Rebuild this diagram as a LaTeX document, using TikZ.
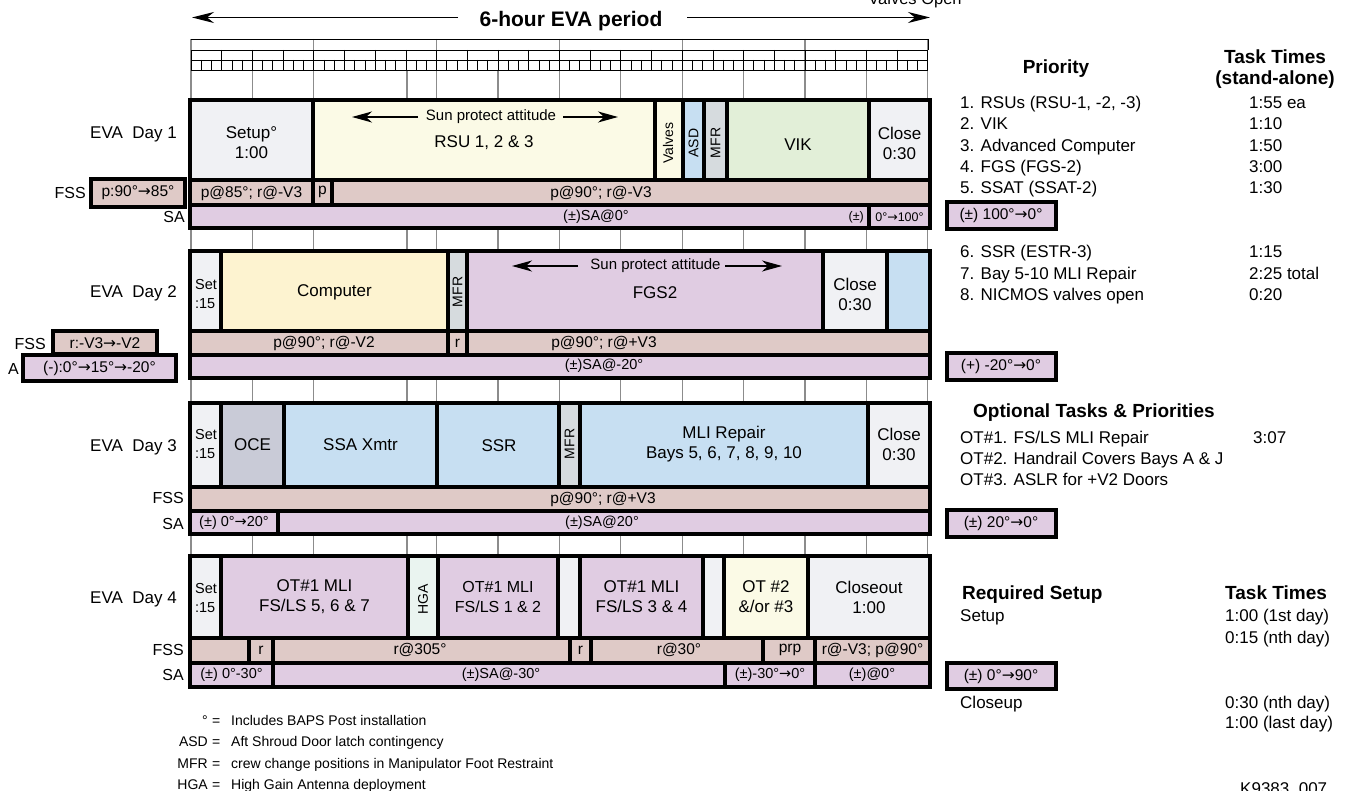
\documentclass[tikz,border=0pt]{standalone}
\usepackage{fontspec}
\setmainfont{Liberation Sans}
\newfontfamily\arrfont{DejaVu Sans}
\newcommand\myarr{{\arrfont →}}
\usetikzlibrary{arrows.meta}
\definecolor{cgray}{HTML}{F0F1F4}
\definecolor{cyel}{HTML}{FBFAE6}
\definecolor{cblue}{HTML}{C7DFF2}
\definecolor{cmfr}{HTML}{D6DBDE}
\definecolor{cgreen}{HTML}{E2EFD8}
\definecolor{cfss}{HTML}{DFCAC7}
\definecolor{csa}{HTML}{E0CCE2}
\definecolor{ccomp}{HTML}{FDF3D0}
\definecolor{coce}{HTML}{C9CBD7}
\definecolor{chga}{HTML}{EAF4F0}
\definecolor{cgrid}{HTML}{8C8C8C}
\newcommand\mycell[5]{\draw[cellbox,fill=#5] (#1,#2) rectangle (#3,#4);}
\begin{document}
\begin{tikzpicture}[x=1pt,y=-1pt,
  cellbox/.style={draw=black,line width=3.5pt},
  lbox/.style={draw=black,line width=4pt},
  ttxt/.style={inner sep=0pt,align=center,font=\fontsize{17}{20}\selectfont},
  t16/.style={inner sep=0pt,align=center,font=\fontsize{16}{20}\selectfont},
  mtxt/.style={inner sep=0pt,align=center,font=\fontsize{15.5}{18}\selectfont},
  suntxt/.style={inner sep=0pt,font=\fontsize{15}{18}\selectfont},
  satxt/.style={inner sep=0pt,align=center,font=\fontsize{14.5}{17}\selectfont},
  stxt/.style={inner sep=0pt,align=center,font=\fontsize{12.5}{15}\selectfont},
  rtxt/.style={inner sep=0pt,rotate=90,font=\fontsize{14}{16}\selectfont},
  settxt/.style={inner sep=0pt,align=left,font=\fontsize{14.5}{19}\selectfont},
  lab/.style={inner sep=0pt,anchor=base east,font=\fontsize{17}{20}\selectfont},
  rlab/.style={inner sep=0pt,anchor=base east,font=\fontsize{16}{19}\selectfont},
  rlist/.style={inner sep=0pt,anchor=base west,font=\fontsize{17}{20}\selectfont},
  hdr/.style={inner sep=0pt,anchor=base,font=\fontsize{19}{21}\selectfont\bfseries},
  hdrw/.style={inner sep=0pt,anchor=base west,font=\fontsize{19}{21}\selectfont\bfseries},
  gline/.style={draw=cgrid,line width=1.3pt},
  rtick/.style={draw=black,line width=0.8pt},
  bigarrow/.style={line width=1.7pt,-{Stealth[length=22pt,width=11pt,inset=7pt]}},
  sunarrow/.style={line width=1.5pt,-{Stealth[length=20pt,width=11pt,inset=6pt]}},
  lgd/.style={inner sep=0pt,anchor=base west,font=\fontsize{14}{17}\selectfont}
]
\useasboundingbox (0,0) rectangle (1346,791);

% ---------- title and arrows ----------
\node[inner sep=0pt,anchor=base,font=\fontsize{21}{24}\selectfont\bfseries] (title) at (571,27) {6-hour EVA period};
\coordinate (tla) at (458,17.5); \coordinate (tlb) at (192,17.5);
\coordinate (tra) at (687,17.5); \coordinate (trb) at (930,17.5);
\draw[bigarrow] (tla) -- (tlb);
\draw[bigarrow] (tra) -- (trb);
\node[inner sep=0pt,anchor=base,font=\fontsize{16.5}{19}\selectfont] (valvesopen) at (915,4.5) {Valves Open};

% ---------- ruler and grid ----------
\foreach \i in {0,...,6} \draw[gline] ({191+\i*122.8},39) -- ({191+\i*122.8},687);
\foreach \xx in {252.4,407,498,620.8,743.6,866.4} \draw[gline] (\xx,70) -- (\xx,687);
\foreach \yy in {39,50,60,70} \draw[rtick] (191,\yy) -- (928,\yy);
\foreach \i in {0,...,72} \draw[rtick] ({191+\i*10.2333},60) -- ({191+\i*10.2333},70);
\foreach \i in {0,...,24} \draw[rtick] ({191+\i*30.7},50) -- ({191+\i*30.7},70);
\draw[rtick] (928,39) -- (928,50);

% ---------- Day 1 ----------
\mycell{190}{100}{313}{180}{cgray}
\mycell{313}{100}{655}{180}{cyel}
\mycell{655}{100}{683}{180}{cyel}
\mycell{683}{100}{704}{180}{cblue}
\mycell{704}{100}{727}{180}{cmfr}
\mycell{727}{100}{869}{180}{cgreen}
\mycell{869}{100}{930}{180}{cgray}
\mycell{190}{180}{313}{205}{cfss}
\mycell{313}{180}{332}{205}{cfss}
\mycell{332}{180}{930}{205}{cfss}
\mycell{190}{205}{869}{228}{csa}
\mycell{869}{205}{930}{228}{csa}
\node[ttxt] (d1setup) at (251.5,143) {Setup°\\1:00};
\node[suntxt] (d1sun) at (491,117) {Sun protect attitude};
\coordinate (d1la) at (418,117); \coordinate (d1lb) at (352,117);
\coordinate (d1ra) at (563,117); \coordinate (d1rb) at (618,117);
\draw[sunarrow] (d1la) -- (d1lb);
\draw[sunarrow] (d1ra) -- (d1rb);
\node[ttxt] (d1rsu) at (484,143) {RSU 1, 2 \& 3};
\node[rtxt] (d1valves) at (668,143) {Valves};
\node[rtxt] (d1asd) at (693.5,143) {ASD};
\node[rtxt] (d1mfr) at (715.5,143) {MFR};
\node[ttxt] (d1vik) at (798,145) {VIK};
\node[ttxt] (d1close) at (899.5,143) {Close\\0:30};
\node[mtxt] (d1f1) at (251.5,193) {p@85°; r@-V3};
\node[mtxt] (d1f2) at (322.5,192) {p};
\node[mtxt] (d1f3) at (601,193) {p@90°; r@-V3};
\node[satxt] (d1s1) at (596,217) {(±)SA@0°};
\node[stxt,anchor=east] (d1s2) at (864,217) {(±)};
\node[stxt] (d1s3) at (899.5,217) {0°\myarr100°};
\node[lab] (d1lab) at (177,139) {EVA\ \ Day 1};
\node[rlab] (d1fsslab) at (86,199) {FSS};
\draw[lbox,fill=cfss] (91,179) rectangle (185,207);
\node[mtxt] (d1fssbox) at (138,193) {p:90°\myarr85°};
\node[rlab] (d1salab) at (185,223) {SA};

% ---------- Day 2 ----------
\mycell{190}{251}{221}{331}{cgray}
\mycell{221}{251}{448}{331}{ccomp}
\mycell{448}{251}{467}{331}{cmfr}
\mycell{467}{251}{823}{331}{csa}
\mycell{823}{251}{887}{331}{cgray}
\mycell{887}{251}{930}{331}{cblue}
\mycell{190}{331}{448}{355}{cfss}
\mycell{448}{331}{467}{355}{cfss}
\mycell{467}{331}{930}{355}{cfss}
\mycell{190}{355}{930}{378}{csa}
\node[settxt] (d2set) at (206,294) {Set\\:15};
\node[ttxt] (d2comp) at (334.5,292) {Computer};
\node[rtxt] (d2mfr) at (457.5,292) {MFR};
\node[suntxt] (d2sun) at (655.5,266) {Sun protect attitude};
\coordinate (d2la) at (578,266); \coordinate (d2lb) at (512,266);
\coordinate (d2ra) at (725,266); \coordinate (d2rb) at (782,266);
\draw[sunarrow] (d2la) -- (d2lb);
\draw[sunarrow] (d2ra) -- (d2rb);
\node[ttxt] (d2fgs) at (655,293) {FGS2};
\node[ttxt] (d2close) at (855,294) {Close\\0:30};
\node[mtxt] (d2f1) at (324,343) {p@90°; r@-V2};
\node[mtxt] (d2f2) at (457.5,343) {r};
\node[mtxt] (d2f3) at (604,343) {p@90°; r@+V3};
\node[satxt] (d2s1) at (604,366) {(±)SA@-20°};
\node[lab] (d2lab) at (177,298) {EVA\ \ Day 2};
\node[rlab] (d2fsslab) at (46,350) {FSS};
\draw[lbox,fill=cfss] (53,331) rectangle (157,354);
\node[mtxt] (d2fssbox) at (105,343) {r:-V3\myarr-V2};
\node[rlab] (d2salab) at (19,374) {A};
\draw[lbox,fill=csa] (23,355) rectangle (176,381);
\node[mtxt] (d2sabox) at (99.5,368) {(-):0°\myarr15°\myarr-20°};

% ---------- Day 3 ----------
\mycell{190}{403}{221}{487}{cgray}
\mycell{221}{403}{284}{487}{coce}
\mycell{284}{403}{437}{487}{cblue}
\mycell{437}{403}{559}{487}{cblue}
\mycell{559}{403}{580}{487}{cmfr}
\mycell{580}{403}{868}{487}{cblue}
\mycell{868}{403}{930}{487}{cgray}
\mycell{190}{487}{930}{511}{cfss}
\mycell{190}{511}{278}{534}{csa}
\mycell{278}{511}{930}{534}{csa}
\node[settxt] (d3set) at (206,444) {Set\\:15};
\node[ttxt] (d3oce) at (252.5,445) {OCE};
\node[ttxt] (d3ssa) at (360.5,445) {SSA Xmtr};
\node[ttxt] (d3ssr) at (499,446) {SSR};
\node[rtxt] (d3mfr) at (569.5,444) {MFR};
\node[ttxt] (d3mli) at (724,444) {MLI Repair\\Bays 5, 6, 7, 8, 9, 10};
\node[ttxt] (d3close) at (899,444) {Close\\0:30};
\node[mtxt] (d3f1) at (603,499) {p@90°; r@+V3};
\node[satxt] (d3s1) at (234,523) {(±) 0°\myarr20°};
\node[satxt] (d3s2) at (602,523) {(±)SA@20°};
\node[lab] (d3lab) at (177,451) {EVA\ \ Day 3};
\node[rlab] (d3fsslab) at (184,503) {FSS};
\node[rlab] (d3salab) at (184,529) {SA};

% ---------- Day 4 ----------
\mycell{190}{556}{221}{638}{cgray}
\mycell{221}{556}{408}{638}{csa}
\mycell{408}{556}{438}{638}{chga}
\mycell{438}{556}{558}{638}{csa}
\mycell{558}{556}{580}{638}{cgray}
\mycell{580}{556}{703}{638}{csa}
\mycell{703}{556}{724}{638}{cgray}
\mycell{724}{556}{808}{638}{cyel}
\mycell{808}{556}{930}{638}{cgray}
\mycell{190}{638}{249}{663}{cfss}
\mycell{249}{638}{273}{663}{cfss}
\mycell{273}{638}{570}{663}{cfss}
\mycell{570}{638}{591}{663}{cfss}
\mycell{591}{638}{763}{663}{cfss}
\mycell{763}{638}{815}{663}{cfss}
\mycell{815}{638}{930}{663}{cfss}
\mycell{190}{663}{273}{687}{csa}
\mycell{273}{663}{725}{687}{csa}
\mycell{725}{663}{815}{687}{csa}
\mycell{815}{663}{930}{687}{csa}
\node[settxt] (d4set) at (206,598) {Set\\:15};
\node[ttxt] (d4ot1) at (314.5,597) {OT\#1 MLI\\FS/LS 5, 6 \& 7};
\node[rtxt] (d4hga) at (423,599) {HGA};
\node[t16] (d4ot2) at (498,597) {OT\#1 MLI\\FS/LS 1 \& 2};
\node[ttxt] (d4ot3) at (641.5,597) {OT\#1 MLI\\FS/LS 3 \& 4};
\node[ttxt] (d4ot4) at (766,597) {OT \#2\\\&/or \#3};
\node[ttxt] (d4close) at (869,597) {Closeout\\1:00};
\node[mtxt] (d4f1) at (261,650) {r};
\node[mtxt] (d4f2) at (420,650) {r@305°};
\node[mtxt] (d4f3) at (580.5,650) {r};
\node[mtxt] (d4f4) at (679,650) {r@30°};
\node[mtxt] (d4f5) at (790,650) {prp};
\node[mtxt] (d4f6) at (872.5,650) {r@-V3; p@90°};
\node[satxt] (d4s1) at (231.5,675) {(±) 0°-30°};
\node[satxt] (d4s2) at (501,675) {(±)SA@-30°};
\node[satxt] (d4s3) at (770,675) {(±)-30°\myarr0°};
\node[satxt] (d4s4) at (872,675) {(±)@0°};
\node[lab] (d4lab) at (177,603) {EVA\ \ Day 4};
\node[rlab] (d4fsslab) at (184,655) {FSS};
\node[rlab] (d4salab) at (184,680) {SA};

% ---------- right column ----------
\node[hdr] (prio) at (1056,74) {Priority};
\node[hdr] (tt1) at (1275,64) {Task Times};
\node[hdr] (tt2) at (1275,85) {(stand-alone)};
\node[rlist] (p1) at (960,109) {1. RSUs (RSU-1, -2, -3)};
\node[rlist] (p2) at (960,130) {2. VIK};
\node[rlist] (p3) at (960,152) {3. Advanced Computer};
\node[rlist] (p4) at (960,173) {4. FGS (FGS-2)};
\node[rlist] (p5) at (960,194) {5. SSAT (SSAT-2)};
\node[rlist] (t1) at (1249,109) {1:55 ea};
\node[rlist] (t2) at (1249,130) {1:10};
\node[rlist] (t3) at (1249,152) {1:50};
\node[rlist] (t4) at (1249,173) {3:00};
\node[rlist] (t5) at (1249,194) {1:30};
\draw[lbox,fill=csa] (947,202) rectangle (1056,229);
\node[mtxt] (rb1) at (1001,215.5) {(±) 100°\myarr0°};
\node[rlist] (p6) at (960,258) {6. SSR (ESTR-3)};
\node[rlist] (p7) at (960,280) {7. Bay 5-10 MLI Repair};
\node[rlist] (p8) at (960,301) {8. NICMOS valves open};
\node[rlist] (t6) at (1249,258) {1:15};
\node[rlist] (t7) at (1249,280) {2:25 total};
\node[rlist] (t8) at (1249,301) {0:20};
\draw[lbox,fill=csa] (947,353) rectangle (1056,380);
\node[mtxt] (rb2) at (1001,366.5) {(+) -20°\myarr0°};
\node[hdrw] (opt) at (973,417) {Optional Tasks \& Priorities};
\node[rlist] (o1) at (960,443) {OT\#1. FS/LS MLI Repair};
\node[rlist] (o2) at (960,464) {OT\#2. Handrail Covers Bays A \& J};
\node[rlist] (o3) at (960,485) {OT\#3. ASLR for +V2 Doors};
\node[rlist] (o1t) at (1253,443) {3:07};
\draw[lbox,fill=csa] (947,510) rectangle (1056,537);
\node[mtxt] (rb3) at (1001,523.5) {(±) 20°\myarr0°};
\node[hdrw] (req) at (962,599) {Required Setup};
\node[hdrw] (tt3) at (1225,599) {Task Times};
\node[rlist] (s1) at (960,621) {Setup};
\node[rlist] (s1a) at (1225,621) {1:00 (1st day)};
\node[rlist] (s1b) at (1225,643) {0:15 (nth day)};
\draw[lbox,fill=csa] (947,663) rectangle (1056,689);
\node[mtxt] (rb4) at (1001,676) {(±) 0°\myarr90°};
\node[rlist] (s2) at (960,708) {Closeup};
\node[rlist] (s2a) at (1225,708) {0:30 (nth day)};
\node[rlist] (s2b) at (1225,728) {1:00 (last day)};
\node[inner sep=0pt,anchor=north west,font=\fontsize{17}{20}\selectfont] (kno) at (1240,782) {K9383\_007};

% ---------- legend ----------
\node[lgd,anchor=base east] (lg1a) at (208,725) {°};
\node[lgd] (lg1b) at (212,725) {=};
\node[lgd] (lg1c) at (231,725) {Includes BAPS Post installation};
\node[lgd,anchor=base east] (lg2a) at (208,746) {ASD};
\node[lgd] (lg2b) at (212,746) {=};
\node[lgd] (lg2c) at (231,746) {Aft Shroud Door latch contingency};
\node[lgd,anchor=base east] (lg3a) at (208,768) {MFR};
\node[lgd] (lg3b) at (212,768) {=};
\node[lgd] (lg3c) at (231,768) {crew change positions in Manipulator Foot Restraint};
\node[lgd,anchor=base east] (lg4a) at (208,789) {HGA};
\node[lgd] (lg4b) at (212,789) {=};
\node[lgd] (lg4c) at (231,789) {High Gain Antenna deployment};
\end{tikzpicture}
\end{document}
